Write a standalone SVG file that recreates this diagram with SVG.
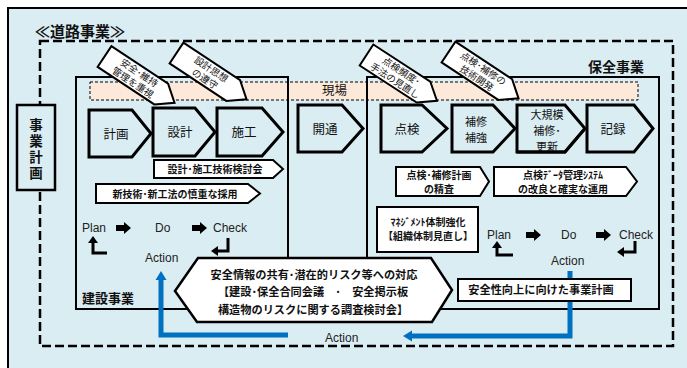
<svg xmlns="http://www.w3.org/2000/svg" width="687" height="368" viewBox="0 0 687 368">
<style>
.jp{font-family:"Noto Sans CJK JP","Noto Sans",sans-serif;fill:#111}
.b{font-weight:700}
.en{font-family:"Liberation Sans",Arial,sans-serif;fill:#222;font-size:12px}
.proc{fill:#daedf3;stroke:#000;stroke-width:3;stroke-linejoin:miter}
.wbox{fill:#fff;stroke:#000;stroke-width:2}
.call{fill:#fff;stroke:#000;stroke-width:2}
.frame{fill:none;stroke:#000;stroke-width:2}
.pl{font-size:12.5px}
.pm{font-size:11px}
.sm{font-size:10px}
.cs{font-size:9.5px}
.blue{fill:none;stroke:#0070c0;stroke-width:5}
.lar{fill:none;stroke:#000;stroke-width:3}
</style>
<defs>
<polygon id="callout" points="0,-12.5 68,-12.5 84,0 68,12.5 0,12.5" class="call"/>
<polygon id="rarrow" points="0,-3 8,-3 8,-6 15,0 8,6 8,3 0,3" fill="#000"/>
</defs>
<rect x="0" y="0" width="687" height="368" fill="#fff"/>
<rect id="outer" x="8" y="8" width="680" height="370" fill="#daedf3" stroke="#000" stroke-width="2"/>
<rect id="road" x="40" y="41" width="633" height="305" fill="none" stroke="#000" stroke-width="2.5" stroke-dasharray="9,4"/>
<text x="35" y="37" class="jp b" font-size="15">≪道路事業≫</text>

<g id="genba">
<rect x="90" y="82" width="548" height="18" fill="#fde9d9" stroke="#000" stroke-width="1" stroke-dasharray="3,2"/>
<text x="322" y="95" class="jp pl">現場</text>
</g>

<g id="jigyo-keikaku">
<rect x="17" y="105" width="38" height="85" fill="#daedf3" stroke="#000" stroke-width="2.5"/>
<text x="36" y="118" class="jp b" font-size="13.5" writing-mode="vertical-rl" letter-spacing="2.5">事業計画</text>
</g>

<g id="kensetsu">
<rect x="76" y="77" width="212" height="232" class="frame"/>
<text x="82" y="303" class="jp b" font-size="13">建設事業</text>
</g>
<g id="hozen">
<rect x="367" y="77" width="292" height="232" class="frame"/>
<text x="588" y="72" class="jp b" font-size="14">保全事業</text>
</g>

<g id="keikaku"><polygon class="proc" points="89,110 132,110 151,133.5 132,157 89,157"/><text x="116" y="139" class="jp pl" text-anchor="middle">計画</text></g>
<g id="sekkei"><polygon class="proc" points="153,108 195,108 215,132 195,156 153,156"/><text x="180" y="137" class="jp pl" text-anchor="middle">設計</text></g>
<g id="sekou"><polygon class="proc" points="217,108 262,108 283,132 262,156 217,156"/><text x="244" y="137" class="jp pl" text-anchor="middle">施工</text></g>
<g id="kaitsu"><polygon class="proc" points="298,105 342,105 363,128.5 342,152 298,152"/><text x="325" y="134" class="jp pl" text-anchor="middle">開通</text></g>
<g id="tenken"><polygon class="proc" points="381,105 422,105 447,128.5 422,152 381,152"/><text x="407" y="134" class="jp pl" text-anchor="middle">点検</text></g>
<g id="hoshu"><polygon class="proc" points="452,105 493,105 515,128.5 493,152 452,152"/><text class="jp pm" text-anchor="middle"><tspan x="476" y="126">補修</tspan><tspan x="476" y="142">補強</tspan></text></g>
<g id="daikibo"><polygon class="proc" points="517,105 565,105 585,128.5 565,152 517,152" style="fill:none"/><text class="jp pm" text-anchor="middle"><tspan x="547" y="119">大規模</tspan><tspan x="547" y="135">補修･</tspan><tspan x="547" y="151">更新</tspan></text><polyline points="517,152 565,152 585,128.5" class="lar"/></g>
<g id="kiroku"><polygon class="proc" points="587,105 634,105 653,128.5 634,152 587,152"/><text x="613" y="134" class="jp pl" text-anchor="middle">記録</text></g>

<g id="callout1" transform="translate(104.5,56.5) rotate(33.5)"><use href="#callout"/><text class="jp cs" text-anchor="middle"><tspan x="38" y="-2">安全･維持</tspan><tspan x="38" y="9.5">管理を重視</tspan></text></g>
<g id="callout2" transform="translate(176.5,53) rotate(33.5)"><use href="#callout"/><text class="jp cs" text-anchor="middle"><tspan x="38" y="-2">設計思想</tspan><tspan x="38" y="9.5">の遵守</tspan></text></g>
<g id="callout3" transform="translate(366.5,55) rotate(33)"><use href="#callout"/><text class="jp cs" text-anchor="middle"><tspan x="38" y="-2">点検頻度･</tspan><tspan x="38" y="9.5">手法の見直し</tspan></text></g>
<g id="callout4" transform="translate(448.5,52) rotate(33.5)"><use href="#callout"/><text class="jp cs" text-anchor="middle"><tspan x="38" y="-2">点検･補修の</tspan><tspan x="38" y="9.5">技術開発</tspan></text></g>

<g id="kentoukai"><polygon class="wbox" points="154,160 273,160 283,169 273,178 154,178"/><text x="215" y="173" class="jp b sm" text-anchor="middle">設計･施工技術検討会</text></g>
<g id="shingijutsu"><polygon class="wbox" points="96,184 248,184 260,193.5 248,203 96,203"/><text x="175" y="197.5" class="jp b sm" text-anchor="middle">新技術･新工法の慎重な採用</text></g>
<g id="seisa"><polygon class="wbox" points="396,167 480,167 489,181.5 480,196 396,196"/><text class="jp b sm" text-anchor="middle"><tspan x="439" y="178.5">点検･補修計画</tspan><tspan x="439" y="193">の精査</tspan></text></g>
<g id="datasys"><polygon class="wbox" points="494,167 626,167 637,181.5 626,196 494,196"/><text class="jp b sm" text-anchor="middle"><tspan x="563" y="178.5">点検ﾃﾞｰﾀ管理ｼｽﾃﾑ</tspan><tspan x="563" y="193">の改良と確実な運用</tspan></text></g>
<g id="management"><rect x="377" y="207" width="101" height="45" class="wbox"/><text class="jp b sm" text-anchor="middle"><tspan x="428" y="226">ﾏﾈｼﾞﾒﾝﾄ体制強化</tspan><tspan x="428" y="240">【組織体制見直し】</tspan></text></g>

<g id="pdca-left">
<text x="82" y="232" class="en">Plan</text>
<use href="#rarrow" x="116" y="228"/>
<text x="155" y="232" class="en">Do</text>
<use href="#rarrow" x="192" y="228"/>
<text x="213" y="232" class="en">Check</text>
<text x="145" y="262" class="en">Action</text>
<polyline points="107,253 93,253 93,242" class="lar"/><polygon points="93,236 88,243 98,243" fill="#000"/>
<polyline points="228,238 228,251 217,251" class="lar"/><polygon points="211,251 218,246 218,256" fill="#000"/>
</g>
<g id="pdca-right">
<text x="487" y="239" class="en">Plan</text>
<use href="#rarrow" x="526" y="235"/>
<text x="561" y="239" class="en">Do</text>
<use href="#rarrow" x="596" y="235"/>
<text x="619" y="239" class="en">Check</text>
<text x="551" y="265" class="en">Action</text>
<polyline points="513,255 497,255 497,247" class="lar"/><polygon points="497,241 492,248 502,248" fill="#000"/>
<polyline points="635,241 635,252 623,252" class="lar"/><polygon points="617,252 624,247 624,257" fill="#000"/>
</g>

<g id="connectors">
<polyline points="288,335 161,335 161,279" class="blue"/>
<polygon points="161,271 155.5,280 166.5,280" fill="#0070c0"/>
<polyline points="570,271 570,336 412,336" class="blue"/>
<polygon points="403,336 412,330.5 412,341.5" fill="#0070c0"/>
<text x="325" y="342" class="en">Action</text>
</g>

<g id="anzen-joho">
<polygon points="175,291 198,258 431,258 452,290 432,322 197,322" fill="#fff" stroke="#000" stroke-width="2.5"/>
<text class="jp b" font-size="11.2" text-anchor="middle"><tspan x="314" y="279">安全情報の共有･潜在的リスク等への対応</tspan><tspan x="313" y="296">【建設･保全合同会議　･　安全掲示板</tspan><tspan x="313" y="314">構造物のリスクに関する調査検討会】</tspan></text>
</g>
<g id="jigyokeikaku2"><rect x="458" y="279" width="173" height="22" class="wbox"/><text x="541" y="294" class="jp b" font-size="11.2" text-anchor="middle">安全性向上に向けた事業計画</text></g>
</svg>
